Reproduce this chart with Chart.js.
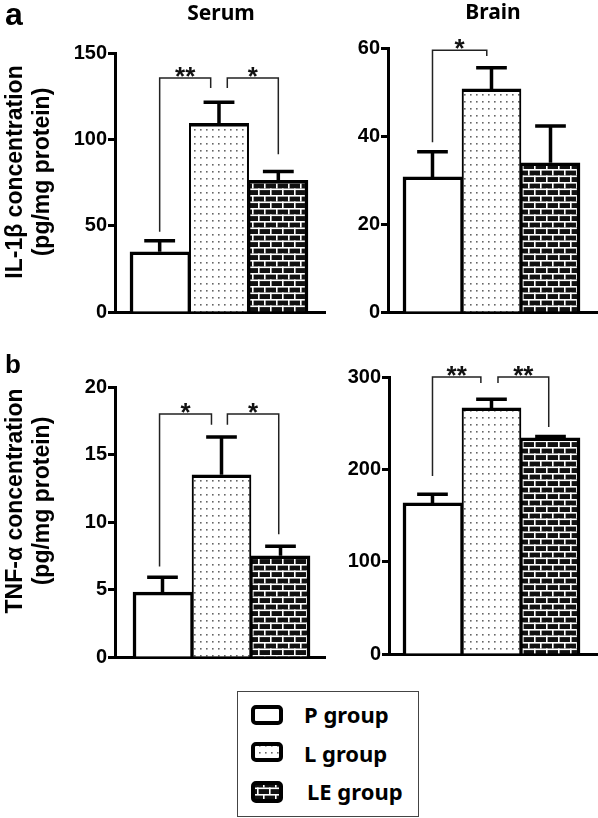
<!DOCTYPE html>
<html>
<head>
<meta charset="utf-8">
<script src="https://cdn.jsdelivr.net/npm/chart.js@4.4.1/dist/chart.umd.min.js"></script>
<style>
  body { margin: 0; background: #fff; }
  #wrap { position: relative; width: 598px; height: 818px; overflow: hidden; }
  #wrap canvas { position: absolute; }
  .txt { position: absolute; color: #000; font-weight: bold; white-space: nowrap; }
  .sans { font-family: "Liberation Sans", Arial, sans-serif; }
  .noto { font-family: "Noto Sans", sans-serif; }
  .ytitle { width: 260px; height: 54px; line-height: 27px; font-size: 23px; text-align: center; transform: rotate(-90deg); }
  #legend { position: absolute; left: 237px; top: 691px; width: 180px; height: 124px; border: 1px solid #444; }
</style>
</head>
<body>
<div id="wrap">
  <canvas id="c1" width="330" height="330" style="left:0;top:0"></canvas>
  <canvas id="c2" width="298" height="330" style="left:300px;top:0"></canvas>
  <canvas id="c3" width="330" height="350" style="left:0;top:330px"></canvas>
  <canvas id="c4" width="298" height="350" style="left:300px;top:330px"></canvas>

  <div class="txt sans" style="left:5px;top:-4px;font-size:32px;line-height:36px">a</div>
  <div class="txt sans" style="left:5px;top:349px;font-size:26px;line-height:30px">b</div>
  <div class="txt noto" style="left:121px;top:-3px;width:200px;text-align:center;font-size:21px;line-height:30px">Serum</div>
  <div class="txt noto" style="left:393px;top:-4px;width:200px;text-align:center;font-size:21px;line-height:30px">Brain</div>
  <div class="txt sans ytitle" style="left:-102px;top:145px">IL-1β concentration<br>(pg/mg protein)</div>
  <div class="txt sans ytitle" style="left:-102px;top:474px">TNF-α concentration<br>(pg/mg protein)</div>

  <div id="legend"></div>
  <canvas id="sw0" width="32" height="20" style="left:251px;top:705px"></canvas>
  <canvas id="sw1" width="32" height="20" style="left:251px;top:742px"></canvas>
  <canvas id="sw2" width="32" height="22" style="left:251px;top:781px"></canvas>
  <div class="txt noto" id="lg0" style="left:304px;top:699px;font-size:22px;line-height:30px"></div>
  <div class="txt noto" id="lg1" style="left:304px;top:738px;font-size:22px;line-height:30px"></div>
  <div class="txt noto" id="lg2" style="left:307px;top:776px;font-size:22px;line-height:30px"></div>
</div>

<script>
const groups = ['P group', 'L group', 'LE group'];

// IL-1β, serum
const il1bSerum = [34.9, 109.3, 76.2];
const il1bSerumErr = [6.4, 12.2, 5.2];
const il1bSerumTicks = [0, 50, 100, 150];
// IL-1β, brain
const il1bBrain = [30.7, 50.7, 33.9];
const il1bBrainErr = [5.7, 4.8, 8.4];
const il1bBrainTicks = [0, 20, 40, 60];
// TNF-α, serum
const tnfSerum = [4.8, 13.5, 7.5];
const tnfSerumErr = [1.1, 2.8, 0.7];
const tnfSerumTicks = [0, 5, 10, 15, 20];
// TNF-α, brain
const tnfBrain = [163.6, 266.5, 234];
const tnfBrainErr = [9.5, 9.5, 1.5];
const tnfBrainTicks = [0, 100, 200, 300];

// significance brackets: [left x, right x, bracket y, left leg end, right leg end, label]
const il1bSerumSig = [[0, 0.86, 135.5, 46.5, 129.7, '**'], [1.14, 2, 135.5, 129.7, 91.3, '*']];
const il1bBrainSig = [[0, 0.92, 59.5, 38.6, 58.2, '*']];
const tnfSerumSig = [[-0.05, 0.83, 18, 6.7, 17.2, '*'], [1.1, 1.97, 18, 17.2, 9.1, '*']];
const tnfBrainSig = [[0, 0.82, 300, 192.8, 293.5, '**'], [1.11, 1.97, 300, 293.5, 245.9, '**']];

function dotPattern(ctx) {
  const c = document.createElement('canvas');
  c.width = 6; c.height = 7;
  const g = c.getContext('2d');
  g.fillStyle = '#fff'; g.fillRect(0, 0, 6, 7);
  g.fillStyle = '#666'; g.fillRect(2, 3, 1.6, 1.6);
  return ctx.createPattern(c, 'repeat');
}

function brickPattern(ctx) {
  const c = document.createElement('canvas');
  c.width = 12; c.height = 13;
  const g = c.getContext('2d');
  g.fillStyle = '#111'; g.fillRect(0, 0, 12, 13);
  g.fillStyle = '#fff';
  g.fillRect(0, 0, 12, 1.6);
  g.fillRect(0, 6.5, 12, 1.6);
  g.fillRect(0, 0, 1.6, 6.5);
  g.fillRect(6, 6.5, 1.6, 6.5);
  return ctx.createPattern(c, 'repeat');
}

function fills(ctx) {
  return ['#fff', dotPattern(ctx), brickPattern(ctx)];
}

// error bars + significance brackets, drawn through the chart's scales
function extras(values, errs, sig) {
  return {
    id: 'extras',
    afterDatasetsDraw(chart) {
      const { ctx, scales: { x, y } } = chart;
      const meta = chart.getDatasetMeta(0);
      ctx.save();
      ctx.strokeStyle = '#000';
      ctx.lineWidth = 3.5;
      values.forEach((v, i) => {
        const bar = meta.data[i];
        const top = y.getPixelForValue(v + errs[i]);
        const half = bar.width * 0.26;
        ctx.beginPath();
        ctx.moveTo(bar.x, bar.y);
        ctx.lineTo(bar.x, top);
        ctx.moveTo(bar.x - half, top);
        ctx.lineTo(bar.x + half, top);
        ctx.stroke();
      });
      ctx.lineWidth = 1.5;
      ctx.strokeStyle = '#222';
      ctx.fillStyle = '#111';
      ctx.font = 'bold 26px "Liberation Sans", Arial';
      ctx.textAlign = 'center';
      ctx.textBaseline = 'alphabetic';
      sig.forEach(s => {
        const x1 = x.getPixelForValue(s[0]), x2 = x.getPixelForValue(s[1]);
        const yt = y.getPixelForValue(s[2]);
        ctx.beginPath();
        ctx.moveTo(x1, y.getPixelForValue(s[3]));
        ctx.lineTo(x1, yt);
        ctx.lineTo(x2, yt);
        ctx.lineTo(x2, y.getPixelForValue(s[4]));
        ctx.stroke();
        ctx.fillText(s[5], (x1 + x2) / 2, yt + 7);
      });
      ctx.restore();
    }
  };
}

function makePanel(id, values, errs, ticks, sig, xMin, xMax, pad) {
  const ctx = document.getElementById(id).getContext('2d');
  const bg = fills(ctx);
  return new Chart(ctx, {
    type: 'bar',
    data: {
      labels: groups,
      datasets: [{
        data: values.map((v, i) => ({ x: i, y: v })),
        backgroundColor: bg,
        borderColor: '#000',
        borderWidth: c => ({
          top: 3.5,
          left: c.dataIndex === 0 ? 3.5 : 2,
          right: c.dataIndex === 2 ? 3.5 : 2,
          bottom: 0
        }),
        borderSkipped: 'start',
        barPercentage: 1,
        categoryPercentage: 1
      }]
    },
    options: {
      responsive: false,
      animation: false,
      events: [],
      layout: { padding: pad },
      plugins: { legend: { display: false }, tooltip: { enabled: false } },
      scales: {
        x: {
          type: 'linear',
          offset: false,
          bounds: 'data',
          min: xMin,
          max: xMax,
          afterBuildTicks: s => { s.ticks = [0, 1, 2].map(v => ({ value: v })); },
          afterFit: s => { s.height = 0; },
          ticks: { display: false },
          grid: { display: false, drawTicks: false, offset: false },
          border: { display: true, width: 3, color: '#000' }
        },
        y: {
          min: ticks[0],
          max: ticks[ticks.length - 1],
          afterFit: s => { s.width = 60; },
          afterBuildTicks: s => { s.ticks = ticks.map(v => ({ value: v })); },
          ticks: {
            color: '#000',
            padding: 1,
            font: { family: '"Liberation Sans", Arial', size: 20, weight: 'bold' }
          },
          grid: { drawOnChartArea: false, drawTicks: true, tickLength: 7, tickWidth: 3, tickColor: '#000' },
          border: { display: true, width: 3, color: '#000' }
        }
      }
    },
    plugins: [extras(values, errs, sig)]
  });
}

makePanel('c1', il1bSerum, il1bSerumErr, il1bSerumTicks, il1bSerumSig, -0.753, 2.787,
  { left: 55, right: 5, top: 53, bottom: 18 });
makePanel('c2', il1bBrain, il1bBrainErr, il1bBrainTicks, il1bBrainSig, -0.754, 2.788,
  { left: 28, right: 1, top: 48, bottom: 18 });
makePanel('c3', tnfSerum, tnfSerumErr, tnfSerumTicks, tnfSerumSig, -0.805, 2.754,
  { left: 55, right: 5, top: 57, bottom: 23 });
makePanel('c4', tnfBrain, tnfBrainErr, tnfBrainTicks, tnfBrainSig, -0.737, 2.788,
  { left: 29, right: 1, top: 47, bottom: 26 });

// legend swatches and labels
groups.forEach((name, i) => {
  document.getElementById('lg' + i).textContent = name;
  const cv = document.getElementById('sw' + i);
  const g = cv.getContext('2d');
  const w = cv.width, h = cv.height;
  g.fillStyle = fills(g)[i];
  g.beginPath();
  g.roundRect(2, 2, w - 4, h - 4, 3);
  g.fill();
  g.lineWidth = 4;
  g.strokeStyle = '#000';
  g.stroke();
});
</script>
</body>
</html>
